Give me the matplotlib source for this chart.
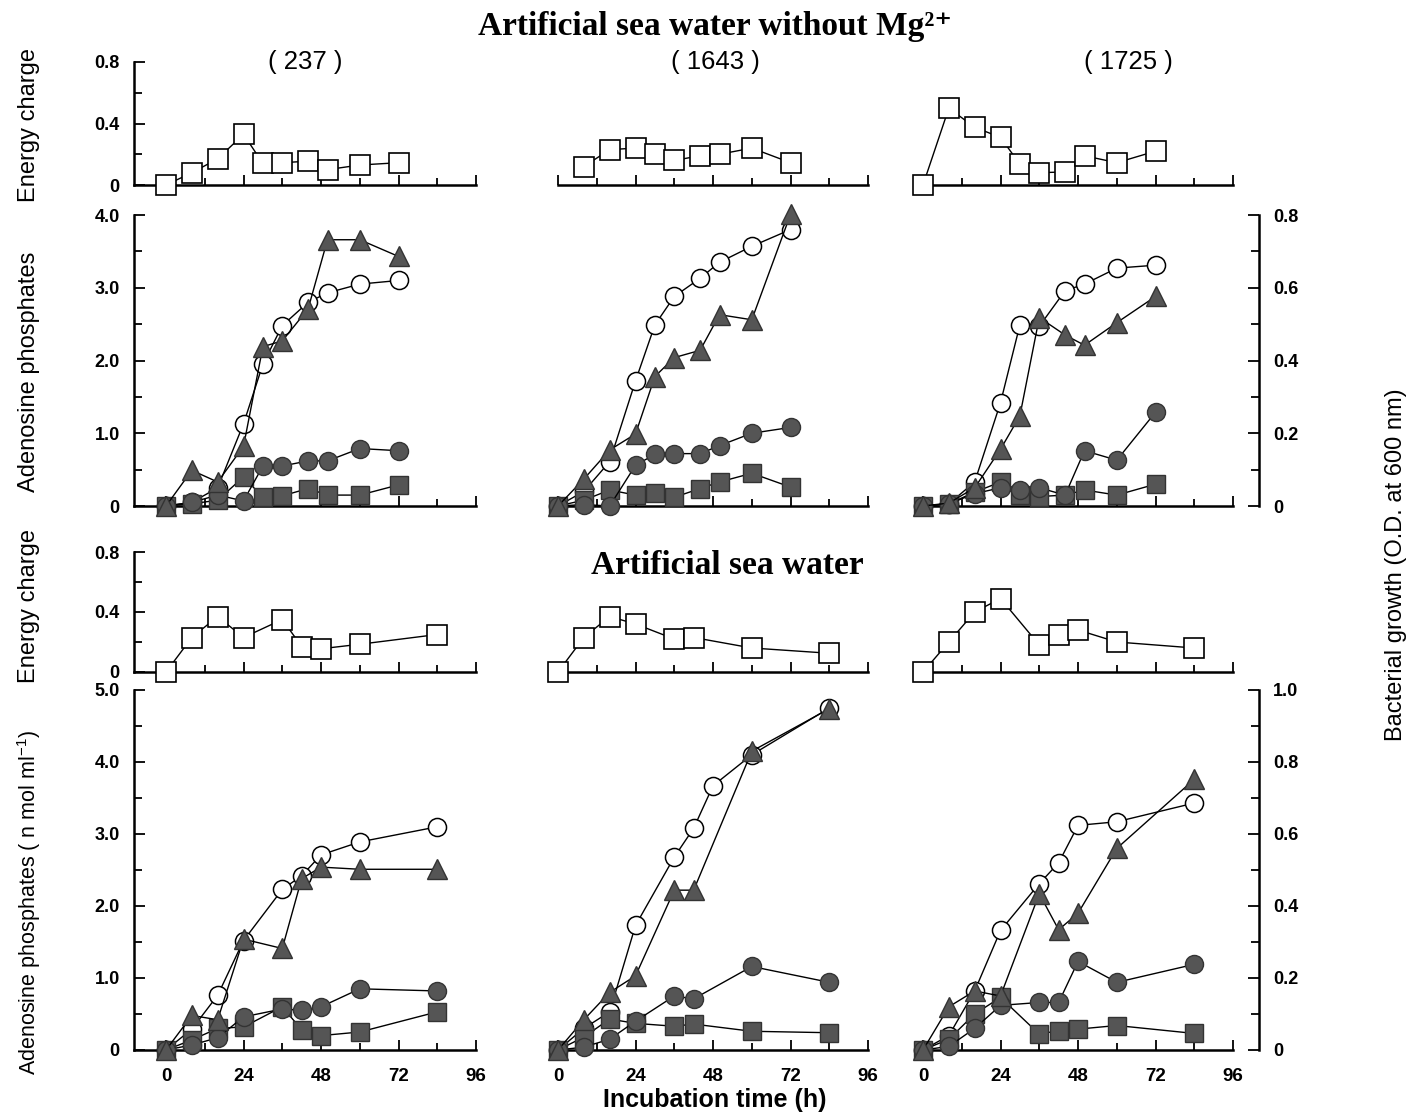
import numpy as np
import matplotlib.pyplot as plt
from matplotlib.ticker import FixedLocator, FuncFormatter, NullFormatter

plt.rcParams['font.family'] = ['Liberation Sans', 'DejaVu Sans']
plt.rcParams['mathtext.default'] = 'regular'

# sampling times (h)
t_nomg = [0, 8, 16, 24, 30, 36, 44, 50, 60, 72]
t_asw = [0, 8, 16, 24, 36, 42, 48, 60, 84]
t_asw_1643 = [0, 8, 16, 24, 36, 42, 60, 84]

strains = ['237', '1643', '1725']

# --- artificial sea water without Mg2+ ---
ec_nomg_237 = [0.0, 0.08, 0.17, 0.33, 0.14, 0.145, 0.155, 0.10, 0.13, 0.145]
atp_nomg_237 = [0, 0.49, 0.33, 0.82, 2.19, 2.27, 2.71, 3.66, 3.66, 3.43]
adp_nomg_237 = [0, 0.05, 0.15, 0.07, 0.55, 0.55, 0.62, 0.62, 0.79, 0.76]
amp_nomg_237 = [0, 0.03, 0.08, 0.40, 0.12, 0.14, 0.24, 0.15, 0.15, 0.29]
od_nomg_237 = [0, 0.01, 0.05, 0.226, 0.39, 0.496, 0.56, 0.586, 0.61, 0.62]

ec_nomg_1643 = [0.12, 0.23, 0.24, 0.20, 0.16, 0.19, 0.20, 0.24, 0.145]
atp_nomg_1643 = [0, 0.37, 0.77, 0.99, 1.78, 2.04, 2.14, 2.63, 2.56, 4.01]
adp_nomg_1643 = [0, 0.02, 0.0, 0.56, 0.71, 0.72, 0.72, 0.83, 1.00, 1.08]
amp_nomg_1643 = [0, 0.08, 0.22, 0.15, 0.18, 0.12, 0.24, 0.33, 0.45, 0.26]
od_nomg_1643 = [0, 0.04, 0.122, 0.344, 0.498, 0.576, 0.626, 0.67, 0.714, 0.76]

ec_nomg_1725 = [0.0, 0.50, 0.375, 0.31, 0.135, 0.08, 0.085, 0.19, 0.145, 0.22]
atp_nomg_1725 = [0, 0.04, 0.25, 0.78, 1.24, 2.59, 2.35, 2.21, 2.52, 2.88]
adp_nomg_1725 = [0, 0.03, 0.17, 0.25, 0.22, 0.25, 0.15, 0.76, 0.63, 1.29]
amp_nomg_1725 = [0, 0.03, 0.19, 0.33, 0.15, 0.13, 0.15, 0.22, 0.15, 0.30]
od_nomg_1725 = [0, 0.006, 0.066, 0.284, 0.498, 0.494, 0.592, 0.61, 0.654, 0.662]

# --- artificial sea water ---
ec_asw_237 = [0.0, 0.23, 0.37, 0.23, 0.35, 0.17, 0.155, 0.185, 0.25]
atp_asw_237 = [0, 0.48, 0.42, 1.54, 1.41, 2.38, 2.54, 2.51, 2.51]
adp_asw_237 = [0, 0.07, 0.17, 0.46, 0.57, 0.55, 0.60, 0.85, 0.82]
amp_asw_237 = [0, 0.14, 0.30, 0.32, 0.60, 0.28, 0.20, 0.25, 0.53]
od_asw_237 = [0, 0.058, 0.152, 0.304, 0.446, 0.484, 0.542, 0.578, 0.62]

ec_asw_1643 = [0.0, 0.23, 0.37, 0.32, 0.22, 0.23, 0.16, 0.125]
atp_asw_1643 = [0, 0.42, 0.80, 1.03, 2.22, 2.22, 4.15, 4.74]
adp_asw_1643 = [0, 0.04, 0.15, 0.40, 0.75, 0.71, 1.16, 0.94]
amp_asw_1643 = [0, 0.18, 0.43, 0.37, 0.33, 0.36, 0.26, 0.24]
od_asw_1643 = [0, 0.06, 0.106, 0.346, 0.536, 0.616, 0.734, 0.82, 0.95]

ec_asw_1725 = [0.0, 0.20, 0.40, 0.49, 0.18, 0.25, 0.28, 0.20, 0.16]
atp_asw_1725 = [0, 0.60, 0.82, 0.75, 2.17, 1.67, 1.90, 2.80, 3.76]
adp_asw_1725 = [0, 0.05, 0.30, 0.62, 0.66, 0.66, 1.23, 0.94, 1.19]
amp_asw_1725 = [0, 0.15, 0.50, 0.73, 0.22, 0.27, 0.29, 0.34, 0.23]
od_asw_1725 = [0, 0.04, 0.164, 0.332, 0.462, 0.52, 0.624, 0.634, 0.686]

W, H = 1413, 1115
fig = plt.figure(figsize=(W / 100, H / 100), dpi=100)

FILL = '#555555'
col_x0 = [166, 558, 923]      # pixel position of t = 0 in each column
px_per_h = 3.23
XMIN, XMAX = -10, 104
spine_start = [-10, 0, -2]


def px_rect(left, right, top, bottom):
    return [left / W, 1 - bottom / H, (right - left) / W, (bottom - top) / H]


def fmt(v, pos):
    return '0' if abs(v) < 1e-9 else f'{v:.1f}'


def style_yaxis(ax, side, major, minor):
    ax.yaxis.set_major_locator(FixedLocator(major))
    ax.yaxis.set_minor_locator(FixedLocator(minor))
    ax.yaxis.set_major_formatter(FuncFormatter(fmt))
    ax.tick_params(axis='y', which='both', direction='in', width=1.3, pad=10)
    ax.tick_params(axis='y', which='major', length=8)
    ax.tick_params(axis='y', which='minor', length=6)
    for lb in ax.get_yticklabels():
        lb.set_fontsize(13)
        lb.set_fontweight('bold')


def setup(ax, col, ymax, major, minor, show_left, xlabels):
    ax.set_xlim(XMIN, XMAX)
    ax.set_ylim(0, ymax)
    ax.patch.set_visible(False)
    for s in ['top', 'right']:
        ax.spines[s].set_visible(False)
    ax.spines['bottom'].set_bounds(spine_start[col], 96)
    ax.spines['bottom'].set_linewidth(1.8)
    ax.xaxis.set_major_locator(FixedLocator([0, 24, 48, 72, 96]))
    ax.xaxis.set_minor_locator(FixedLocator([12, 36, 60, 84]))
    ax.tick_params(axis='x', which='both', direction='in', width=1.3, pad=13)
    ax.tick_params(axis='x', which='major', length=7)
    ax.tick_params(axis='x', which='minor', length=5)
    if xlabels:
        ax.set_xticklabels(['0', '24', '48', '72', '96'], fontsize=13.5, fontweight='bold')
    else:
        ax.xaxis.set_major_formatter(NullFormatter())
    if show_left:
        ax.spines['left'].set_bounds(0, ymax)
        ax.spines['left'].set_linewidth(1.8)
        style_yaxis(ax, 'left', major, minor)
    else:
        ax.spines['left'].set_visible(False)
        ax.tick_params(axis='y', which='both', left=False, right=False,
                       labelleft=False, labelright=False)


def energy_panel(col, top, bottom, t, ec):
    left = col_x0[col] + XMIN * px_per_h
    right = col_x0[col] + XMAX * px_per_h
    ax = fig.add_axes(px_rect(left, right, top, bottom))
    setup(ax, col, 0.8, [0, 0.4, 0.8], [0.2, 0.6], col == 0, False)
    ax.plot(t, ec, color='black', lw=1, marker='s', ms=14, mfc='white',
            mec='black', mew=1.2, clip_on=False, zorder=3)
    return ax


def main_panel(col, top, bottom, ymax, od_max, t, atp, adp, amp, t_od, od, xlabels):
    left = col_x0[col] + XMIN * px_per_h
    right = col_x0[col] + XMAX * px_per_h
    ax = fig.add_axes(px_rect(left, right, top, bottom))
    ax2 = ax.twinx()

    major = list(np.arange(0, ymax + 0.01, 1.0))
    minor = list(np.arange(0.5, ymax, 1.0))
    setup(ax, col, ymax, major, minor, col == 0, xlabels)

    ax2.set_xlim(XMIN, XMAX)
    ax2.set_ylim(0, od_max)
    for s in ['top', 'left', 'bottom']:
        ax2.spines[s].set_visible(False)
    if col == 2:
        ax2.spines['right'].set_bounds(0, od_max)
        ax2.spines['right'].set_linewidth(1.8)
        style_yaxis(ax2, 'right', list(np.arange(0, od_max + 0.01, 0.2)),
                    list(np.arange(0.1, od_max, 0.2)))
    else:
        ax2.spines['right'].set_visible(False)
        ax2.tick_params(axis='y', which='both', left=False, right=False,
                        labelleft=False, labelright=False)
    ax.set_zorder(ax2.get_zorder() + 1)

    # bacterial growth (right scale)
    ax2.plot(t_od, od, color='black', lw=1, marker='o', ms=13, mfc='white',
             mec='black', mew=1.1, clip_on=False)
    # nucleotides (left scale)
    ax.plot(t, amp, color='black', lw=1, marker='s', ms=12.5, mfc=FILL,
            mec='#333333', mew=1.0, clip_on=False, zorder=3)
    ax.plot(t, adp, color='black', lw=1, marker='o', ms=13, mfc=FILL,
            mec='#333333', mew=1.0, clip_on=False, zorder=4)
    ax.plot(t, atp, color='black', lw=1, marker='^', ms=14, mfc=FILL,
            mec='#333333', mew=1.0, clip_on=False, zorder=5)
    return ax


nomg = [
    (ec_nomg_237, atp_nomg_237, adp_nomg_237, amp_nomg_237, od_nomg_237),
    (ec_nomg_1643, atp_nomg_1643, adp_nomg_1643, amp_nomg_1643, od_nomg_1643),
    (ec_nomg_1725, atp_nomg_1725, adp_nomg_1725, amp_nomg_1725, od_nomg_1725),
]
asw = [
    (ec_asw_237, atp_asw_237, adp_asw_237, amp_asw_237, od_asw_237),
    (ec_asw_1643, atp_asw_1643, adp_asw_1643, amp_asw_1643, od_asw_1643),
    (ec_asw_1725, atp_asw_1725, adp_asw_1725, amp_asw_1725, od_asw_1725),
]

for col in range(3):
    ec, atp, adp, amp, od = nomg[col]
    t_ec = t_nomg if len(ec) == len(t_nomg) else t_nomg[1:]
    energy_panel(col, 62, 185, t_ec, ec)
    main_panel(col, 215, 506, 4.0, 0.8, t_nomg, atp, adp, amp, t_nomg, od, False)

    ec, atp, adp, amp, od = asw[col]
    t_n = t_asw if len(atp) == len(t_asw) else t_asw_1643
    t_ec = t_asw if len(ec) == len(t_asw) else t_asw_1643
    energy_panel(col, 552, 672, t_ec, ec)
    main_panel(col, 690, 1050, 5.0, 1.0, t_n, atp, adp, amp, t_asw, od, True)

# headings
serif = ['Liberation Serif', 'DejaVu Serif']
fig.text(715 / W, 1 - 26 / H, 'Artificial sea water without Mg²⁺', family=serif,
         fontsize=24, fontweight='bold', ha='center', va='center')
fig.text(727 / W, 1 - 566 / H, 'Artificial sea water', family=serif,
         fontsize=24, fontweight='bold', ha='center', va='center')
for x, s in zip([305, 715, 1128], strains):
    fig.text(x / W, 1 - 62 / H, f'( {s} )', fontsize=18.5, ha='center', va='center')

# axis titles
lab = dict(rotation=90, ha='center', va='center')
fig.text(29 / W, 1 - 125 / H, 'Energy charge', fontsize=17, **lab)
fig.text(29 / W, 1 - 606 / H, 'Energy charge', fontsize=17, **lab)
fig.text(29 / W, 1 - 372 / H, 'Adenosine phosphates', fontsize=17, **lab)
fig.text(29 / W, 1 - 903 / H, 'Adenosine phosphates ( n mol ml$^{-1}$)', fontsize=15.5, **lab)
fig.text(1396 / W, 1 - 565 / H, 'Bacterial growth (O.D. at 600 nm)', fontsize=17, **lab)
fig.text(715 / W, 1 - 1100 / H, 'Incubation time (h)', fontsize=18,
         fontweight='bold', ha='center', va='center')

fig.savefig('out.png', dpi=100)
